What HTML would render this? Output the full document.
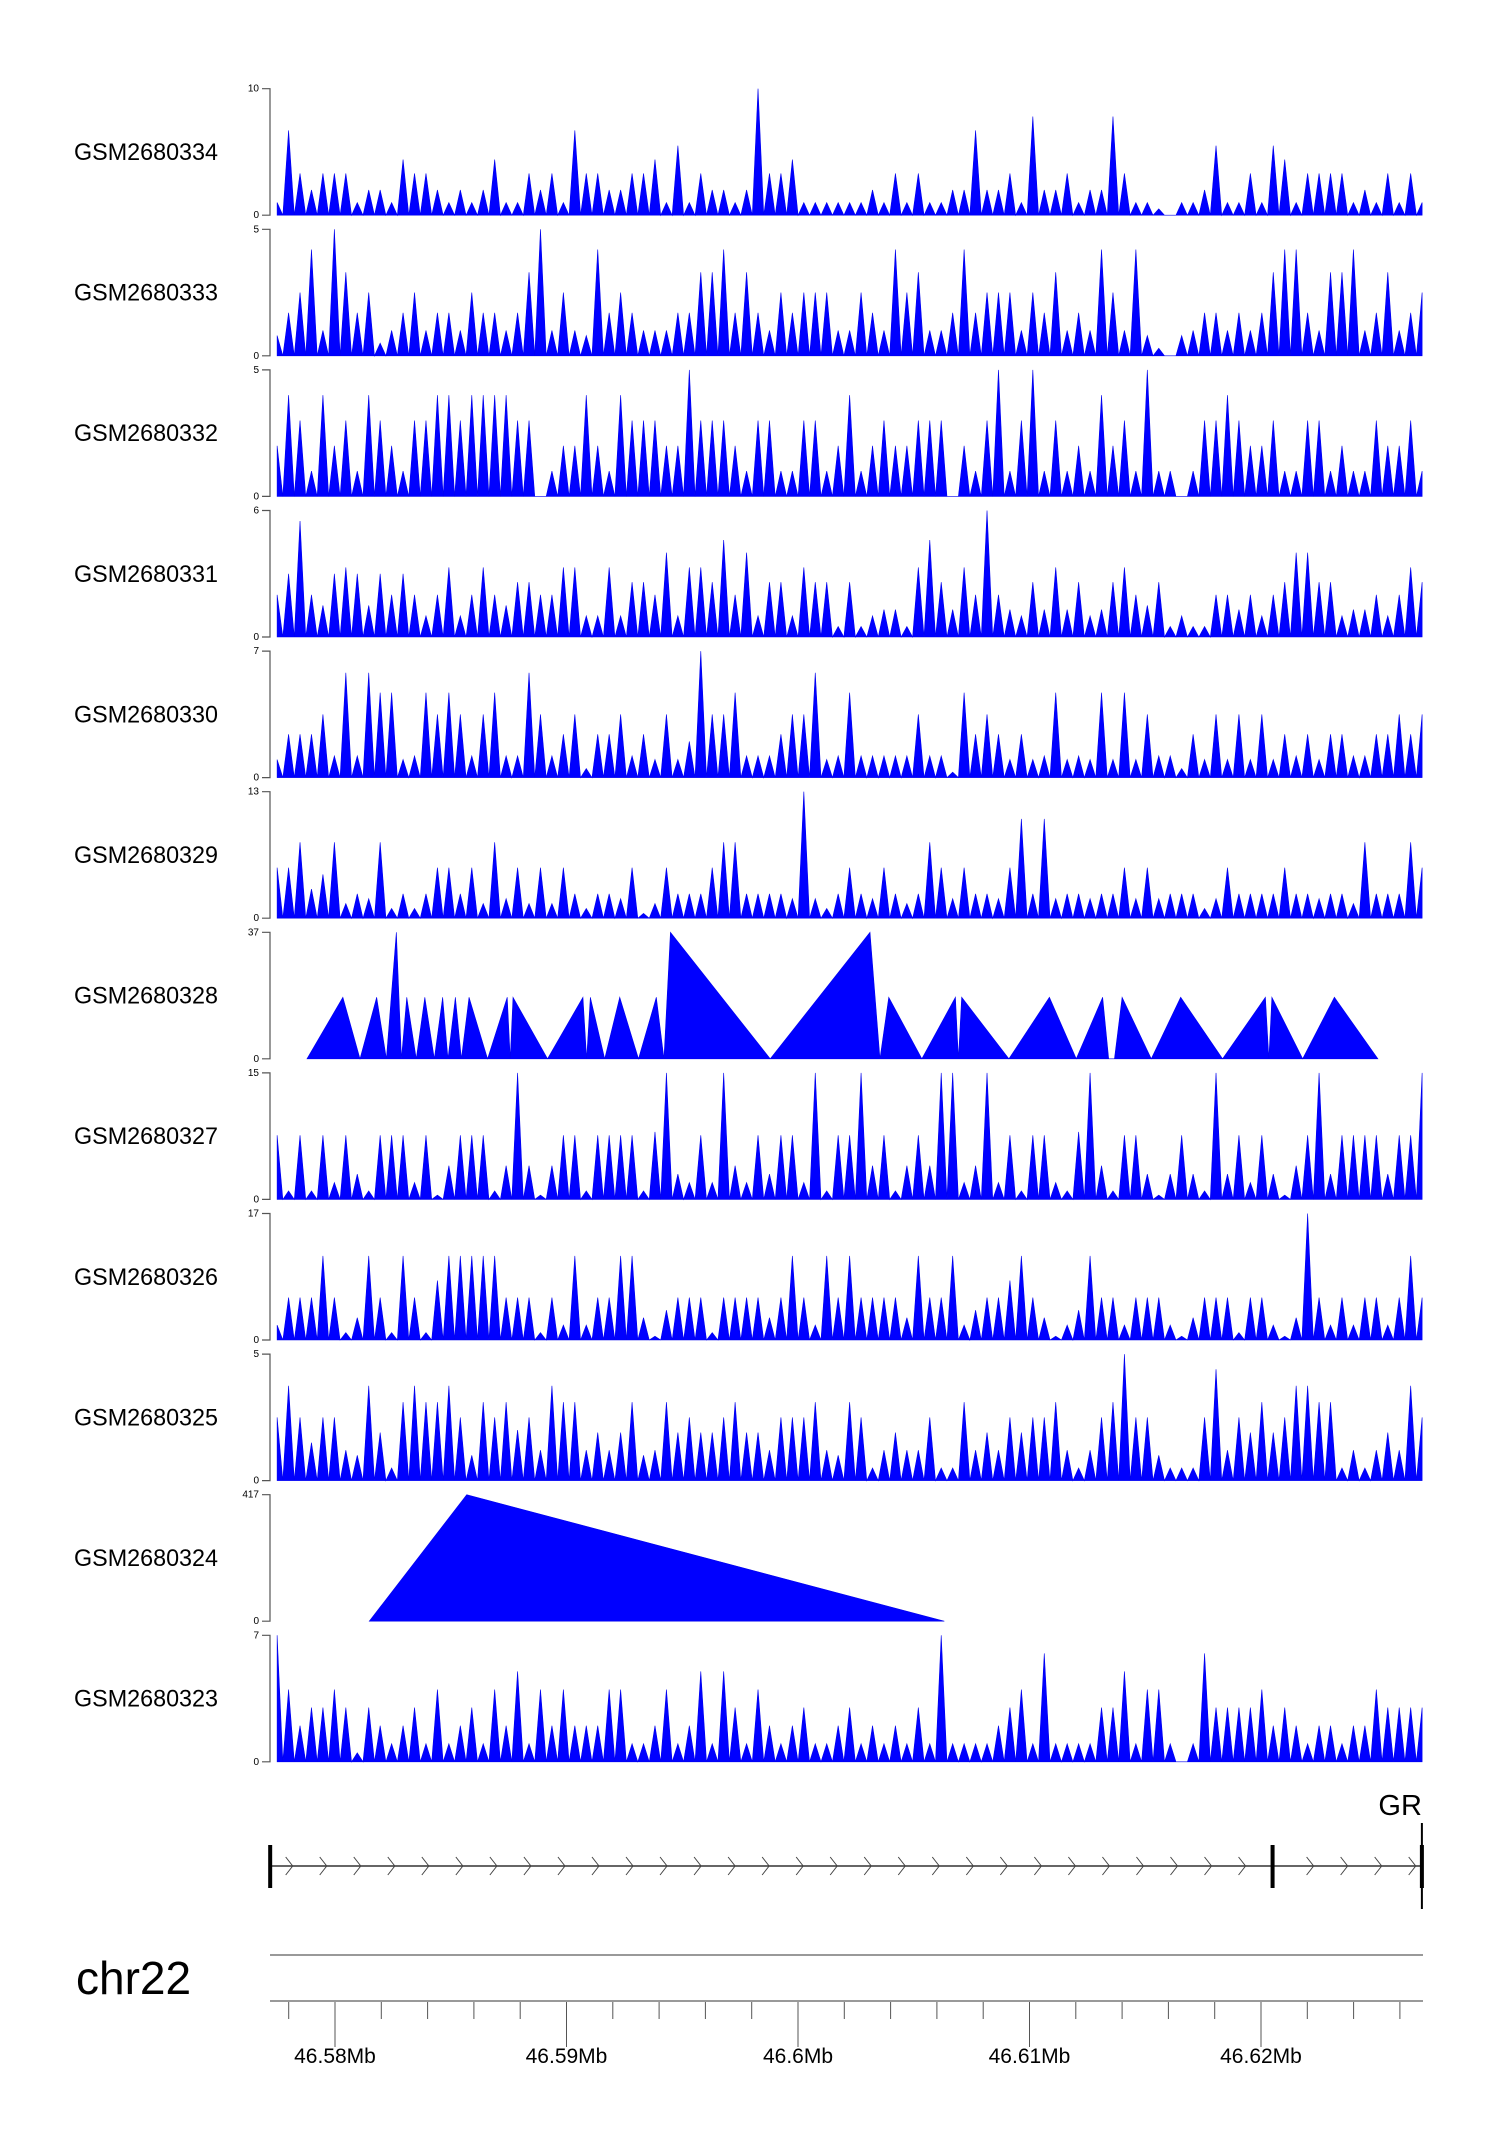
<!DOCTYPE html>
<html><head><meta charset="utf-8"><style>
html,body{margin:0;padding:0;background:#fff;}
svg{display:block;font-family:"Liberation Sans",sans-serif;}
</style></head><body>
<svg id="chart" width="1500" height="2140" viewBox="0 0 1500 2140" xmlns="http://www.w3.org/2000/svg">
<g id="tracks"></g>
<g id="gene"></g>
<g id="axis"></g>
</svg>
<script>
// ---- data ----
const sampleNames = ["GSM2680334","GSM2680333","GSM2680332","GSM2680331","GSM2680330","GSM2680329","GSM2680328","GSM2680327","GSM2680326","GSM2680325","GSM2680324","GSM2680323"];
const yMaxValues = [10,5,5,6,7,13,37,15,17,5,417,7];
const binStartKb = 46577.5;
const binStepKbs = [0.4946,0.4946,0.4946,0.4946,0.4946,0.4946,0,0.4946,0.4946,0.4946,0,0.4946];
const v334 = [1,6.7,3.3,2,3.3,3.3,3.3,1,2,2,1,4.4,3.3,3.3,2,1,2,1,2,4.4,1,1,3.3,2,3.3,1,6.7,3.3,3.3,2,2,3.3,3.3,4.4,1,5.5,1,3.3,2,2,1,2,10,3.3,3.3,4.4,1,1,1,1,1,1,2,1,3.3,1,3.3,1,1,2,2,6.7,2,2,3.3,1,7.8,2,2,3.3,1,2,2,7.8,3.3,1,1,0.5,0,1,1,2,5.5,1,1,3.3,1,5.5,4.4,1,3.3,3.3,3.3,3.3,1,2,1,3.3,1,3.3,1];
const v333 = [0.8,1.7,2.5,4.2,1,5,3.3,1.7,2.5,0.5,1,1.7,2.5,1,1.7,1.7,1,2.5,1.7,1.7,1,1.7,3.3,5,1,2.5,1,0.8,4.2,1.7,2.5,1.7,1,1,1,1.7,1.7,3.3,3.3,4.2,1.7,3.3,1.7,1,2.5,1.7,2.5,2.5,2.5,1,1,2.5,1.7,1,4.2,2.5,3.3,1,1,1.7,4.2,1.7,2.5,2.5,2.5,1,2.5,1.7,3.3,1,1.7,1,4.2,2.5,1,4.2,0.8,0.3,0,0.8,1,1.7,1.7,1,1.7,1,1.7,3.3,4.2,4.2,1.7,1,3.3,3.3,4.2,1,1.7,3.3,1,1.7,2.5];
const v332 = [2,4,3,1,4,2,3,1,4,3,2,1,3,3,4,4,3,4,4,4,4,3,3,0,1,2,2,4,2,1,4,3,3,3,2,2,5,3,3,3,2,1,3,3,1,1,3,3,1,2,4,1,2,3,2,2,3,3,3,0,2,1,3,5,1,3,5,1,3,1,2,1,4,2,3,1,5,1,1,0,1,3,3,4,3,2,2,3,1,1,3,3,1,2,1,1,3,2,2,3,1];
const v331 = [2,3,5.5,2,1.5,3,3.3,3,1.5,3,2,3,2,1,2,3.3,1,2,3.3,2,1.5,2.6,2.6,2,2,3.3,3.3,1,1,3.3,1,2.6,2.6,2,4,1,3.3,3.3,2.6,4.6,2,4,1,2.6,2.6,1,3.3,2.6,2.6,0.5,2.6,0.5,1,1.3,1.3,0.5,3.3,4.6,2.6,1.3,3.3,2,6,2,1.3,1,2.6,1.3,3.3,1.3,2.6,1,1.3,2.6,3.3,2,1.5,2.6,0.5,1,0.5,0.5,2,2,1.3,2,1,2,2.6,4,4,2.6,2.6,1,1.3,1.3,2,1,2,3.3,2.6];
const v330 = [1,2.4,2.4,2.4,3.5,1.2,5.8,1.2,5.8,4.7,4.7,1,1.2,4.7,3.5,4.7,3.5,1.2,3.5,4.7,1.2,1.2,5.8,3.5,1.2,2.4,3.5,0.5,2.4,2.4,3.5,1.2,2.4,1,3.5,1,2,7,3.5,3.5,4.7,1.2,1.2,1.2,2.4,3.5,3.5,5.8,1,1.2,4.7,1.2,1.2,1.2,1.2,1.2,3.5,1.2,1.2,0.3,4.7,2.4,3.5,2.4,1,2.4,1,1.2,4.7,1,1.2,1,4.7,1,4.7,1,3.5,1.2,1.2,0.5,2.4,1,3.5,1,3.5,1,3.5,1,2.4,1.2,2.4,1,2.4,2.4,1.2,1.2,2.4,2.4,3.5,2.4,3.5];
const v329 = [5.2,5.2,7.8,3,4.5,7.8,1.5,2.5,2,7.8,1,2.5,1,2.5,5.2,5.2,2.5,5.2,1.5,7.8,2,5.2,1.5,5.2,1.5,5.2,2.5,1,2.5,2.5,2,5.2,0.5,1.5,5.2,2.5,2.5,2.5,5.2,7.8,7.8,2.5,2.5,2.5,2.5,2,13,2,1,2.5,5.2,2.5,2,5.2,2.5,1.5,2.5,7.8,5.2,2,5.2,2.5,2.5,2,5.2,10.2,2.5,10.2,2,2.5,2.5,2,2.5,2.5,5.2,2,5.2,2,2.5,2.5,2.5,1,2,5.2,2.5,2.5,2.5,2.5,5.2,2.5,2.5,2,2.5,2.5,1.5,7.8,2.5,2.5,2.5,7.8,5.2];
const peaks328Kb = [46578.79,46580.34,46581.08,46581.80,46582.22,46582.65,46582.87,46583.10,46583.51,46583.88,46584.29,46584.65,46584.88,46585.20,46585.46,46585.79,46586.59,46587.44,46587.57,46587.69,46589.18,46590.71,46590.87,46591.03,46591.65,46592.30,46593.11,46593.88,46594.21,46594.49,46598.80,46603.11,46603.54,46603.92,46605.35,46606.80,46606.93,46607.07,46609.11,46610.86,46612.02,46613.16,46613.42,46613.67,46614.00,46615.26,46616.53,46618.34,46620.19,46620.34,46620.47,46621.80,46623.17,46625.05];
const vals328 = [0,18,0,18,0,37,0,18,0,18,0,18,0,18,0,18,0,18,0,18,0,18,0,18,0,18,0,18,0,37,0,37,0,18,0,18,0,18,0,18,0,18,0,0,18,0,18,0,18,0,18,0,18,0];
const v327 = [7.6,1,7.6,1,7.6,2,7.6,3,1,7.6,7.6,7.6,2,7.6,0.5,4,7.6,7.6,7.6,1,4,15,4,0.5,4,7.6,7.6,1,7.6,7.6,7.6,7.6,1,8,15,3,2,7.6,2,15,4,2,7.6,3,7.6,7.6,2,15,1,7.6,7.6,15,4,7.6,1,4,7.6,4,15,15,2,4,15,2,7.6,1,7.6,7.6,2,1,8,15,4,1,7.6,7.6,3,0.5,3,7.6,3,1,15,3,7.6,2,7.6,3,0.5,4,7.6,15,3,7.6,7.6,7.6,7.6,3,7.6,7.6,15];
const v326 = [2,5.7,5.7,5.7,11.3,5.7,1,3,11.3,5.7,1,11.3,5.7,1,8,11.3,11.3,11.3,11.3,11.3,5.7,5.7,5.7,1,5.7,2,11.3,2,5.7,5.7,11.3,11.3,3,0.5,4,5.7,5.7,5.7,1,5.7,5.7,5.7,5.7,3,5.7,11.3,5.7,2,11.3,5.7,11.3,5.7,5.7,5.7,5.7,3,11.3,5.7,5.7,11.3,2,4,5.7,5.7,8,11.3,5.7,3,0.5,2,4,11.3,5.7,5.7,2,5.7,5.7,5.7,2,0.5,3,5.7,5.7,5.7,1,5.7,5.7,2,0.5,3,17,5.7,2,5.7,2,5.7,5.7,2,5.7,11.3,5.7];
const v325 = [2.5,3.75,2.5,1.5,2.5,2.5,1.2,1,3.75,1.9,0.5,3.1,3.75,3.1,3.1,3.75,2.5,1,3.1,2.5,3.1,2,2.5,1.2,3.75,3.1,3.1,1.2,1.9,1.2,1.9,3.1,1,1.2,3.1,1.9,2.5,1.9,1.9,2.5,3.1,1.9,1.9,1.2,2.5,2.5,2.5,3.1,1.2,1,3.1,2.5,0.5,1.2,1.9,1.2,1.2,2.5,0.5,0.5,3.1,1.2,1.9,1.2,2.5,1.9,2.5,2.5,3.1,1.2,0.5,1.2,2.5,3.1,5,2.5,2.5,1,0.5,0.5,0.5,2.5,4.4,1.2,2.5,1.9,3.1,1.9,2.5,3.75,3.75,3.1,3.1,0.5,1.2,0.5,1.2,1.9,1.2,3.75,2.5];
const peaks324Kb = [46581.48,46585.69,46606.32];
const vals324 = [0,417,0];
const v323 = [7,4,2,3,3,4,3,0.5,3,2,1,2,3,1,4,1,2,3,1,4,2,5,1,4,2,4,2,2,2,4,4,1,1,2,4,1,2,5,1,5,3,1,4,2,1,2,3,1,1,2,3,1,2,1,2,1,3,1,7,1,1,1,1,2,3,4,1,6,1,1,1,1,3,3,5,1,4,4,1,0,1,6,3,3,3,3,4,2,3,2,1,2,2,1,2,2,4,3,3,3,3];
const trackSeries = [v334,v333,v332,v331,v330,v329,null,v327,v326,v325,null,v323];
const majorTickKb = [46580,46590,46600,46610,46620];
const majorTickLabels = ["46.58Mb","46.59Mb","46.6Mb","46.61Mb","46.62Mb"];
const minorTickKb = [46578,46582,46584,46586,46588,46592,46594,46596,46598,46602,46604,46606,46608,46612,46614,46616,46618,46622,46624,46626];
const geneStartKb = 46577.2;
const exonKb = [46577.2,46620.5,46626.95];
const geneName = "GR";
const chromName = "chr22";

// ---- scales ----
const NS = "http://www.w3.org/2000/svg";
const PX_PER_KB = 23.15;
function xScale(kb){ return 798 + (kb - 46600) * PX_PER_KB; }
const PANEL_TOP0 = 88.7, PANEL_STEP = 140.6, PANEL_H = 126.5;
function panelTop(i){ return PANEL_TOP0 + PANEL_STEP * i; }
function yScale(i, v){ return panelTop(i) + PANEL_H - (v / yMaxValues[i]) * PANEL_H; }
function mk(tag, attrs, parent){
  const e = document.createElementNS(NS, tag);
  for (const k in attrs) e.setAttribute(k, attrs[k]);
  parent.appendChild(e); return e;
}
const tracksG = document.getElementById('tracks');
const AX = 270;

sampleNames.forEach((name, i) => {
  const g = mk('g', {}, tracksG);
  
  
  const top = panelTop(i), bot = top + PANEL_H;
  const lab = mk('text', {x: 74, y: top + PANEL_H/2 + 8, 'font-size': 24, fill: '#000', textLength: 144, lengthAdjust: 'spacingAndGlyphs'}, g);
  lab.textContent = name;
  
  
  const ax = mk('path', {d: `M${AX-8},${top}H${AX}V${bot}H${AX-8}`, fill: 'none', stroke: '#555', 'stroke-width': 1.2}, g);
  
  
  const t1 = mk('text', {x: AX-11, y: top + 3, 'font-size': 10, 'text-anchor': 'end', fill: '#000'}, g);
  t1.textContent = String(yMaxValues[i]);
  
  
  const t0 = mk('text', {x: AX-11, y: bot + 3, 'font-size': 10, 'text-anchor': 'end', fill: '#000'}, g);
  t0.textContent = '0';
  
  

  let d = '';
  const series = trackSeries[i];
  if (series) {
    const step = binStepKbs[i];
    const half = step * PX_PER_KB / 2;
    const x0 = xScale(binStartKb);
    const xEnd = xScale(binStartKb + (series.length - 1) * step);
    d = `M${x0},${bot}`;
    series.forEach((v, k) => {
      const cx = xScale(binStartKb + k * step);
      d += `L${Math.max(x0, cx - half)},${bot}L${cx},${yScale(i, v)}L${Math.min(xEnd, cx + half)},${bot}`;
    });
    d += 'Z';
  } else {
    const pk = i === 6 ? peaks328Kb : peaks324Kb;
    const vl = i === 6 ? vals328 : vals324;
    d = `M${xScale(pk[0])},${bot}`;
    pk.forEach((kb, k) => { d += `L${xScale(kb)},${yScale(i, vl[k])}`; });
    d += `L${xScale(pk[pk.length-1])},${bot}Z`;
  }
  const area = mk('path', {d: d, fill: '#0000ff', stroke: '#0000ee', 'stroke-width': 0.6, 'stroke-linejoin': 'miter'}, g);
  
  
});

// ---- gene track ----
const geneG = document.getElementById('gene');
const GY = 1866;
const gl = mk('line', {x1: xScale(exonKb[0]), x2: xScale(exonKb[2]), y1: GY, y2: GY, stroke: '#333', 'stroke-width': 1.5}, geneG);


for (let kb = geneStartKb + 0.8; kb < exonKb[2] - 0.4; kb += 1.47) {
  const x = xScale(kb);
  if (Math.abs(x - xScale(exonKb[1])) < 10) continue;
  const c = mk('path', {d: `M${x-3},${GY-9}L${x+4},${GY}L${x-3},${GY+9}`, fill: 'none', stroke: '#444', 'stroke-width': 1}, geneG);
  
  
}
exonKb.forEach((kb, k) => {
  const r = mk('rect', {x: xScale(kb) - 2, y: 1845, width: 4, height: 43, fill: '#000'}, geneG);
  
  
});
const endLine = mk('line', {x1: xScale(exonKb[2]), x2: xScale(exonKb[2]), y1: 1823, y2: 1909, stroke: '#000', 'stroke-width': 2}, geneG);


const gn = mk('text', {x: xScale(exonKb[2]), y: 1815, 'font-size': 29, 'text-anchor': 'end', fill: '#000'}, geneG);
gn.textContent = geneName;



// ---- genome axis ----
const axG = document.getElementById('axis');
const chr = mk('text', {x: 76, y: 1994, 'font-size': 46, fill: '#000'}, axG);
chr.textContent = chromName;


[1955, 2001].forEach(y => {
  const l = mk('line', {x1: 270, x2: 1423, y1: y, y2: y, stroke: '#999', 'stroke-width': 2}, axG);
  
  
});
minorTickKb.forEach(kb => {
  const t = mk('line', {x1: xScale(kb), x2: xScale(kb), y1: 2002, y2: 2019, stroke: '#555', 'stroke-width': 1}, axG);
  
  
});
majorTickKb.forEach((kb, k) => {
  const t = mk('line', {x1: xScale(kb), x2: xScale(kb), y1: 2002, y2: 2047, stroke: '#555', 'stroke-width': 1}, axG);
  
  
  const lb = mk('text', {x: xScale(kb), y: 2063, 'font-size': 21, 'text-anchor': 'middle', fill: '#000'}, axG);
  lb.textContent = majorTickLabels[k];
  
  
});
</script>
</body></html>
